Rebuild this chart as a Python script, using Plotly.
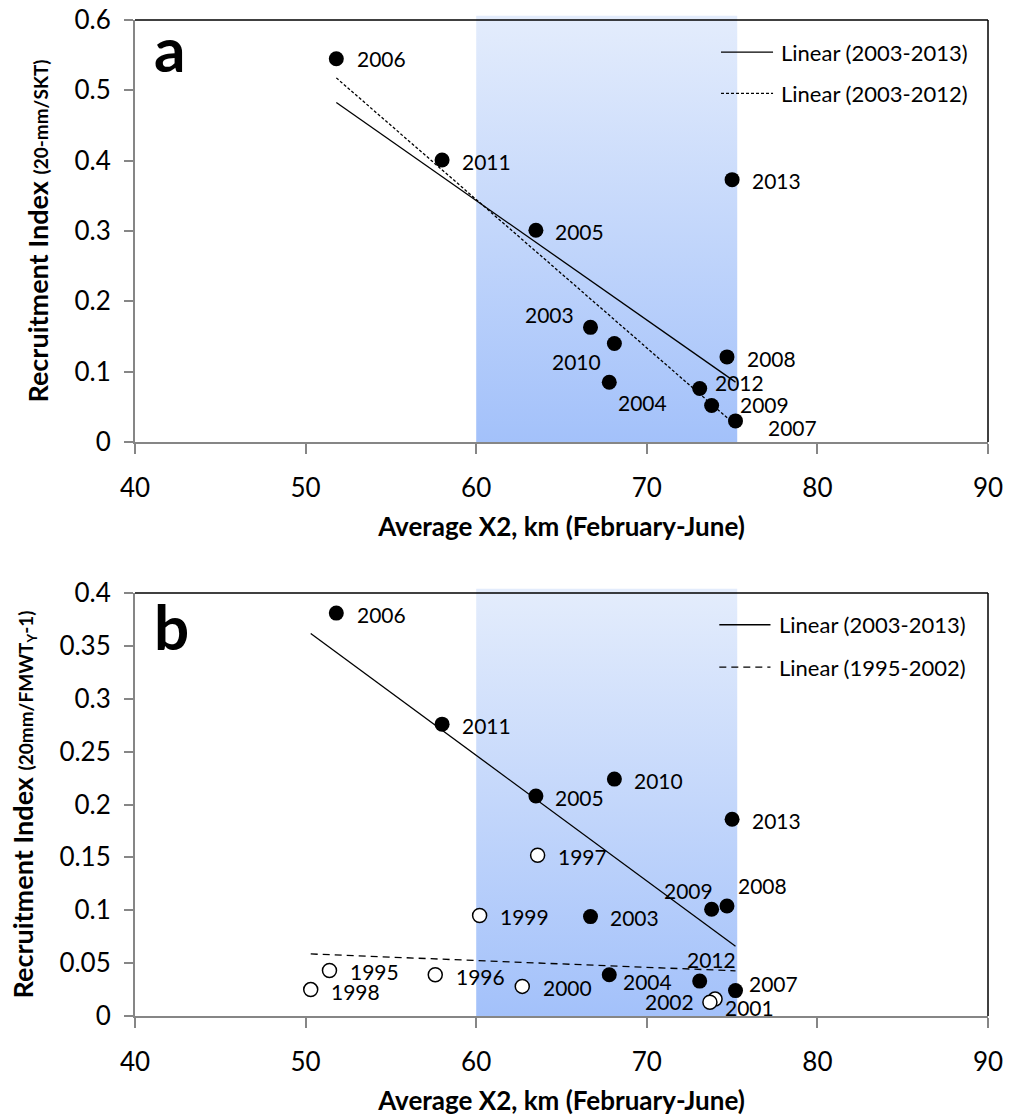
import numpy as np
import plotly.graph_objects as go

# ---------------- data ----------------
years_recent = [2003, 2004, 2005, 2006, 2007, 2008, 2009, 2010, 2011, 2012, 2013]
x2_recent = [66.7, 67.8, 63.5, 51.8, 75.2, 74.7, 73.8, 68.1, 58.0, 73.1, 75.0]
ri_a_recent = [0.163, 0.085, 0.301, 0.545, 0.030, 0.121, 0.052, 0.140, 0.401, 0.076, 0.373]
ri_b_recent = [0.094, 0.039, 0.208, 0.381, 0.024, 0.104, 0.101, 0.224, 0.276, 0.033, 0.186]

years_early = [1995, 1996, 1997, 1998, 1999, 2000, 2001, 2002]
x2_early = [51.4, 57.6, 63.6, 50.3, 60.2, 62.7, 74.0, 73.7]
ri_b_early = [0.043, 0.039, 0.152, 0.025, 0.095, 0.028, 0.016, 0.013]

x_ticks = [40, 50, 60, 70, 80, 90]
ya_ticks = [0, 0.1, 0.2, 0.3, 0.4, 0.5, 0.6]
yb_ticks = [0, 0.05, 0.1, 0.15, 0.2, 0.25, 0.3, 0.35, 0.4]
yb_ticktext = ["0", "0.05", "0.1", "0.15", "0.2", "0.25", "0.3", "0.35", "0.4"]

legend_a = ["Linear (2003-2013)", "Linear (2003-2012)"]
legend_b = ["Linear (2003-2013)", "Linear (1995-2002)"]

shade_x = [60, 75.3]

# ---------------- styling ----------------
FONT = "Lato"
W, H = 1009, 1117
ML, MR, MT, MB = 135, 21, 20, 101
plot_h = H - MT - MB
dom_a = [(H - MB - 442) / plot_h, 1.0]
dom_b = [0.0, (H - MB - 593) / plot_h]

DASH_A = "3px,2px"
DASH_B = "7px,5px"

# label offsets in px (dx right, dy down)
off_a = {2006: (45, 0), 2011: (44, 2), 2005: (44, 1), 2013: (44, 1), 2003: (-41, -13),
         2010: (-38, 18), 2004: (33, 20), 2008: (45, 2), 2012: (40, -6), 2009: (53, -1),
         2007: (57, 7)}
off_b = {2006: (45, 1), 2011: (44, 1), 2005: (44, 1), 2010: (44, 1), 2013: (44, 1),
         1997: (45, 1), 2009: (-23, -19), 2008: (36, -21), 1999: (45, 1), 2003: (44, 1),
         2012: (12, -22), 2004: (38, 7), 2007: (38, -7), 2002: (-40, -1), 2001: (34, 8),
         2000: (45, 1), 1995: (45, 1), 1998: (45, 2), 1996: (45, 2)}


def fit_line(xs, ys, xr):
    k, b = np.polyfit(np.array(xs, float), np.array(ys, float), 1)
    xx = np.array([min(xr), max(xr)], float)
    return xx, k * xx + b


fig = go.Figure()

# shaded region (gradient)
for xa, ya, ymax in (("x", "y", 0.6), ("x2", "y2", 0.4)):
    fig.add_trace(go.Scatter(
        x=[shade_x[0], shade_x[1], shade_x[1], shade_x[0], shade_x[0]],
        y=[0, 0, ymax, ymax, 0], xaxis=xa, yaxis=ya,
        mode="lines", line=dict(width=0), fill="toself",
        fillgradient=dict(type="vertical", colorscale=[[0, "#a3c1fa"], [1, "#e3ecfc"]]),
        showlegend=False, hoverinfo="skip"))

# ---------- panel a ----------
sel = [i for i, yr in enumerate(years_recent) if yr <= 2012]
xx, yy = fit_line(x2_recent, ri_a_recent, x2_recent)
fig.add_trace(go.Scatter(x=xx, y=yy, mode="lines", line=dict(color="black", width=1.3),
                         name=legend_a[0], showlegend=False))
xx, yy = fit_line([x2_recent[i] for i in sel], [ri_a_recent[i] for i in sel], x2_recent)
fig.add_trace(go.Scatter(x=xx, y=yy, mode="lines",
                         line=dict(color="black", width=1.3, dash=DASH_A),
                         name=legend_a[1], showlegend=False))
fig.add_trace(go.Scatter(x=x2_recent, y=ri_a_recent, mode="markers",
                         marker=dict(size=15, color="black"), showlegend=False))

# ---------- panel b ----------
allx_b = x2_recent + x2_early
xx, yy = fit_line(x2_recent, ri_b_recent, allx_b)
fig.add_trace(go.Scatter(x=xx, y=yy, xaxis="x2", yaxis="y2", mode="lines",
                         line=dict(color="black", width=1.3),
                         name=legend_b[0], showlegend=False))
xx, yy = fit_line(x2_early, ri_b_early, allx_b)
fig.add_trace(go.Scatter(x=xx, y=yy, xaxis="x2", yaxis="y2", mode="lines",
                         line=dict(color="black", width=1.3, dash=DASH_B),
                         name=legend_b[1], showlegend=False))
fig.add_trace(go.Scatter(x=x2_early, y=ri_b_early, xaxis="x2", yaxis="y2", mode="markers",
                         marker=dict(size=14, color="white", line=dict(color="black", width=1.5)),
                         showlegend=False))
fig.add_trace(go.Scatter(x=x2_recent, y=ri_b_recent, xaxis="x2", yaxis="y2", mode="markers",
                         marker=dict(size=15, color="black"), showlegend=False))

# ---------- point labels ----------
ann = []
lab_font = dict(size=21, family=FONT, color="black")
for yr, x, y in zip(years_recent, x2_recent, ri_a_recent):
    dx, dy = off_a[yr]
    ann.append(dict(x=x, y=y, xref="x", yref="y", text=str(yr), showarrow=False,
                    xshift=dx, yshift=-dy, font=lab_font))
for yr, x, y in list(zip(years_recent, x2_recent, ri_b_recent)) + list(zip(years_early, x2_early, ri_b_early)):
    dx, dy = off_b[yr]
    ann.append(dict(x=x, y=y, xref="x2", yref="y2", text=str(yr), showarrow=False,
                    xshift=dx, yshift=-dy, font=lab_font))

# panel letters
ann.append(dict(x=0.02, y=1.027, xref="x domain", yref="y domain", text="<b>a</b>",
                showarrow=False, xanchor="left", yanchor="top",
                font=dict(size=62, family=FONT, color="black")))
ann.append(dict(x=0.02, y=1.014, xref="x2 domain", yref="y2 domain", text="<b>b</b>",
                showarrow=False, xanchor="left", yanchor="top",
                font=dict(size=62, family=FONT, color="black")))

# ---------- manual legends ----------
shapes = []
leg_font = dict(size=22, family=FONT, color="black")
for xr, yr, names, dashes, lx0, lx1, tx, ys in (
        ("x", "y", legend_a, ["solid", DASH_A], 0.687, 0.748, 0.755, [0.924, 0.826]),
        ("x2", "y2", legend_b, ["solid", DASH_B], 0.685, 0.745, 0.7526, [0.925, 0.825])):
    for name, dash, yy_ in zip(names, dashes, ys):
        shapes.append(dict(type="line", xref=f"{xr} domain", yref=f"{yr} domain",
                           x0=lx0, x1=lx1, y0=yy_, y1=yy_,
                           line=dict(color="black", width=1.3, dash=dash)))
        ann.append(dict(x=tx, y=yy_, xref=f"{xr} domain", yref=f"{yr} domain", text=name,
                        showarrow=False, xanchor="left", yanchor="middle", font=leg_font))

# ---------- shapes: frame top/right, shade top strip ----------
for xr, yr in (("x", "y"), ("x2", "y2")):
    shapes.append(dict(type="line", xref=f"{xr} domain", yref=f"{yr} domain",
                       x0=0, x1=1, y0=1, y1=1, line=dict(color="black", width=1.5), layer="above"))
    shapes.append(dict(type="line", xref=f"{xr} domain", yref=f"{yr} domain",
                       x0=1, x1=1, y0=0, y1=1, line=dict(color="black", width=1.5), layer="above"))
    shapes.append(dict(type="rect", xref=xr, yref=f"{yr} domain",
                       x0=shade_x[0], x1=shade_x[1], y0=1.0, y1=1.01,
                       fillcolor="#e3ecfc", line=dict(width=0), layer="below"))

xaxis_common = dict(range=[40, 90], tickvals=x_ticks, ticks="outside", ticklen=10,
                    tickcolor="#868686", tickwidth=1.5, showline=True, linecolor="#868686",
                    linewidth=2, showgrid=False, zeroline=False, automargin=False,
                    ticklabeloverflow="allow",
                    tickfont=dict(size=26, family=FONT, color="black"), ticklabelstandoff=12,
                    title=dict(text="<b>Average X2, km (February-June)</b>",
                               font=dict(size=26, family=FONT, color="black"), standoff=16))
yaxis_common = dict(ticks="outside", ticklen=9, tickcolor="#868686", tickwidth=1.5,
                    showline=True, linecolor="#868686", linewidth=2, showgrid=False,
                    zeroline=False, automargin=False, ticklabelstandoff=8,
                    ticklabeloverflow="allow",
                    tickfont=dict(size=26, family=FONT, color="black"))

fig.update_layout(
    width=W, height=H, margin=dict(l=ML, r=MR, t=MT, b=MB),
    plot_bgcolor="white", paper_bgcolor="white", template="none",
    font=dict(family=FONT, color="black"),
    xaxis=dict(**xaxis_common, domain=[0, 1], anchor="y"),
    yaxis=dict(**yaxis_common, domain=dom_a, anchor="x", range=[0, 0.6], tickvals=ya_ticks,
               ticktext=[str(v) for v in ya_ticks],
               title=dict(text="<b>Recruitment Index <span style='font-size:19px'>(20-mm/SKT)</span></b>",
                          font=dict(size=27, family=FONT, color="black"), standoff=18)),
    xaxis2=dict(**xaxis_common, domain=[0, 1], anchor="y2"),
    yaxis2=dict(**yaxis_common, domain=dom_b, anchor="x2", range=[0, 0.4], tickvals=yb_ticks,
                ticktext=yb_ticktext,
                title=dict(text="<b>Recruitment Index <span style='font-size:19px'>(20mm/FMWT<sub>Y</sub>-1)</span></b>",
                           font=dict(size=27, family=FONT, color="black"), standoff=18)),
    annotations=ann, shapes=shapes, showlegend=False,
)

fig.write_html("out.html", config={"displayModeBar": False},
               post_script="document.body.style.margin='0px';")
